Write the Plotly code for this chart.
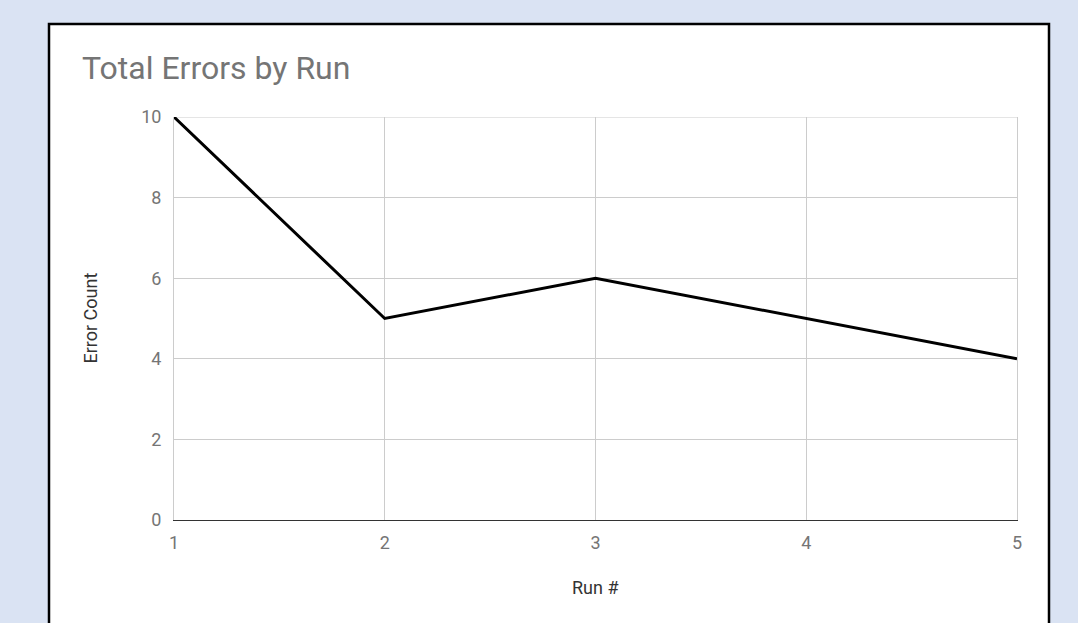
import plotly.graph_objects as go

# Error counts per run
runs = [1, 2, 3, 4, 5]
errors = [10, 5, 6, 5, 4]
y_ticks = [0, 2, 4, 6, 8, 10]

W, H = 1078, 623
L, R, T, B = 174, 61, 117, 103
pw, ph = W - L - R, H - T - B

def px_x(x):
    return (x - L) / pw

def px_y(y):
    return (H - B - y) / ph

fig = go.Figure()
fig.add_trace(go.Scatter(
    x=runs, y=errors, mode="lines",
    line=dict(color="#000000", width=3),
    showlegend=False, hoverinfo="x+y",
))

font = "Roboto, Arial, sans-serif"
grid = "#cccccc"

fig.update_layout(
    width=W, height=H,
    margin=dict(l=L, r=R, t=T, b=B),
    paper_bgcolor="#dae3f3",
    plot_bgcolor="rgba(0,0,0,0)",
    font=dict(family=font, color="#757575", size=18),
    title=dict(
        text="Total Errors by Run",
        font=dict(family=font, size=32, color="#757575"),
        xref="container", yref="container",
        x=82 / W, xanchor="left",
        y=1 - 68 / H, yanchor="middle",
    ),
    xaxis=dict(
        range=[runs[0], runs[-1]], tickvals=runs, ticktext=[str(r) for r in runs],
        showgrid=True, gridcolor=grid, gridwidth=1,
        showline=True, linecolor="#333333", linewidth=1,
        zeroline=False, ticks="", ticklabelstandoff=6,
        tickfont=dict(size=18, color="#757575"),
    ),
    yaxis=dict(
        range=[y_ticks[0], y_ticks[-1]], tickvals=y_ticks,
        showgrid=True, gridcolor=grid, gridwidth=1,
        showline=True, mirror=True, linecolor=grid, linewidth=1,
        zeroline=False, ticks="", ticklabelstandoff=8,
        tickfont=dict(size=18, color="#757575"),
    ),
    shapes=[
        # white card with black border behind the chart
        dict(type="rect", xref="paper", yref="paper", layer="below",
             x0=px_x(49), x1=px_x(1049), y0=px_y(650), y1=px_y(24),
             fillcolor="#ffffff", line=dict(color="#000000", width=2.5)),
        # top gridline at the highest tick
        dict(type="line", xref="paper", yref="y", layer="below",
             x0=0, x1=1, y0=y_ticks[-1], y1=y_ticks[-1],
             line=dict(color=grid, width=1)),
    ],
    annotations=[
        dict(text="Error Count", xref="paper", yref="paper",
             x=px_x(90), y=0.5, textangle=-90, showarrow=False,
             xanchor="center", yanchor="middle",
             font=dict(family=font, size=18, color="#333333")),
        dict(text="Run #", xref="paper", yref="paper",
             x=0.5, y=px_y(587), showarrow=False,
             xanchor="center", yanchor="middle",
             font=dict(family=font, size=18, color="#333333")),
    ],
)

fig.write_html("out.html")
